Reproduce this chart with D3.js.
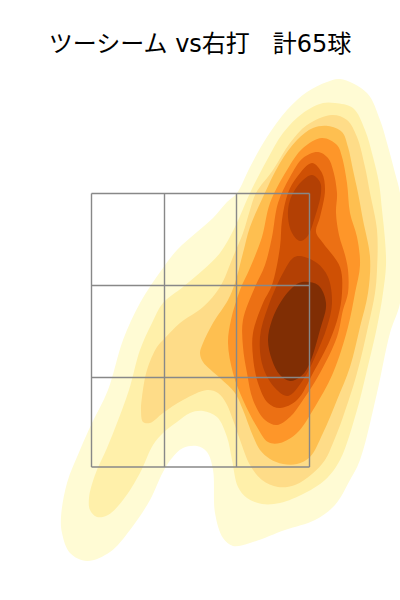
<!DOCTYPE html>
<html>
<head>
<meta charset="utf-8">
<script src="https://cdnjs.cloudflare.com/ajax/libs/d3/7.8.5/d3.min.js"></script>
<style>html,body{margin:0;padding:0;background:#fff}svg{display:block}</style>
</head>
<body>
<script>
// Density bands, outer to inner, in millimetres from the plate centre / zone middle
const band1 = [[280,502],[334,474],[360,420],[374,374],[390,314],[400,274],[408,160],[400,54],[380,-6],[354,-126],[320,-260],[300,-300],[270,-350],[230,-380],[170,-400],[100,-426],[66,-432],[46,-416],[30,-366],[26,-280],[14,-244],[-6,-232],[-34,-236],[-56,-256],[-74,-284],[-100,-340],[-140,-400],[-180,-444],[-226,-462],[-260,-446],[-276,-406],[-278,-374],[-266,-306],[-240,-240],[-216,-186],[-184,-120],[-154,-20],[-120,54],[-74,124],[-46,160],[-6,196],[26,224],[54,256],[74,274],[100,326],[134,386],[174,440],[214,476],[254,496]];
const band2 = [[270,454],[306,444],[330,400],[346,346],[358,294],[364,240],[370,180],[372,130],[366,74],[354,6],[334,-80],[314,-160],[280,-260],[250,-300],[210,-326],[160,-346],[124,-348],[94,-336],[76,-314],[64,-260],[54,-214],[34,-174],[6,-162],[-20,-166],[-46,-184],[-74,-206],[-94,-230],[-120,-286],[-154,-340],[-184,-370],[-206,-374],[-220,-360],[-222,-336],[-210,-290],[-186,-236],[-166,-186],[-142,-120],[-120,-40],[-96,14],[-74,54],[-34,86],[6,120],[40,154],[70,206],[100,274],[134,340],[166,394],[206,434],[246,454]];
const band3 = [[264,430],[294,420],[314,386],[330,326],[340,274],[354,200],[354,120],[350,74],[336,6],[314,-86],[286,-174],[266,-226],[250,-260],[224,-288],[190,-310],[156,-314],[124,-300],[100,-270],[80,-220],[66,-180],[52,-146],[36,-126],[14,-120],[-34,-140],[-74,-166],[-100,-186],[-114,-184],[-118,-160],[-116,-134],[-106,-80],[-86,-34],[-70,-16],[-40,14],[6,46],[40,86],[66,146],[86,194],[100,240],[112,274],[146,320],[180,374],[214,410]];
const band4 = [[256,408],[284,396],[296,366],[306,320],[316,274],[326,220],[340,146],[336,74],[320,6],[300,-74],[274,-140],[246,-206],[220,-254],[194,-268],[166,-268],[140,-258],[120,-240],[106,-212],[86,-160],[70,-126],[40,-96],[6,-64],[0,-46],[6,-26],[26,14],[56,60],[70,94],[86,154],[100,206],[126,266],[160,334],[194,380],[226,404]];
const band5 = [[244,384],[274,370],[284,346],[294,294],[300,234],[314,186],[320,130],[310,74],[296,6],[266,-86],[226,-160],[194,-206],[160,-226],[136,-224],[114,-194],[86,-140],[66,-86],[56,-26],[62,20],[80,80],[100,124],[124,186],[140,254],[174,320],[206,364]];
const band6 = [[236,356],[256,344],[266,320],[274,274],[272,234],[278,190],[290,150],[296,120],[296,74],[286,40],[274,-14],[240,-86],[206,-140],[180,-174],[154,-190],[130,-180],[106,-140],[94,-86],[86,-34],[86,20],[110,86],[130,130],[144,186],[156,254],[180,306],[206,344]];
const band7 = [[224,334],[244,314],[250,280],[240,226],[232,196],[246,174],[280,126],[284,74],[276,26],[260,-20],[226,-86],[194,-140],[160,-156],[136,-146],[116,-106],[106,-54],[106,-6],[126,54],[144,90],[160,166],[164,220],[176,274],[194,306]];
const band8Upper = [[224,310],[240,296],[242,274],[230,226],[214,186],[200,178],[184,194],[176,226],[180,260],[200,294]];
const band8Lower = [[200,148],[234,134],[256,106],[264,54],[254,6],[230,-54],[206,-100],[176,-132],[150,-116],[126,-74],[120,-14],[136,46],[166,114],[186,144]];
const band9 = [[204,96],[236,90],[252,54],[240,0],[216,-74],[200,-94],[180,-102],[160,-90],[144,-60],[136,-20],[144,20],[164,60],[186,86]];

const bands = [band1, band2, band3, band4, band5, band6, band7, band8Upper, band8Lower, band9];
const bandColors = ["#fffbd4","#fff0aa","#fedc88","#febf50","#fe9629","#ec7014","#cf5004","#b34004","#b34004","#802e04"];

const zoneX = [-217, -71, 73, 219];
const zoneY = [273, 89, -95, -274];
const titleText = "ツーシーム vs右打   計65球";

const x = d3.scaleLinear().domain([-400, 400]).range([0, 400]);
const y = d3.scaleLinear().domain([660, -540]).range([0, 600]);

const svg = d3.select("body").append("svg").attr("width", 400).attr("height", 600);

const line = d3.line().x(d => x(d[0])).y(d => y(d[1])).curve(d3.curveCatmullRomClosed.alpha(0.5));

svg.append("g").selectAll("path").data(bands).join("path")
  .attr("d", line)
  .attr("fill", (d, i) => bandColors[i]);

const grid = svg.append("g").attr("stroke", "#888").attr("stroke-width", 1.4).attr("fill", "none");
grid.selectAll("line.v").data(zoneX).join("line").attr("class", "v")
  .attr("x1", d => x(d)).attr("x2", d => x(d))
  .attr("y1", y(zoneY[0])).attr("y2", y(zoneY[3]));
grid.selectAll("line.h").data(zoneY).join("line").attr("class", "h")
  .attr("y1", d => y(d)).attr("y2", d => y(d))
  .attr("x1", x(zoneX[0])).attr("x2", x(zoneX[3]));

svg.append("text")
  .attr("x", 200).attr("y", 52)
  .attr("text-anchor", "middle")
  .attr("font-family", "'DejaVu Sans','Noto Sans CJK JP',sans-serif")
  .attr("font-size", 24)
  .attr("fill", "#000")
  .style("white-space", "pre")
  .text(titleText);
</script>
</body>
</html>
